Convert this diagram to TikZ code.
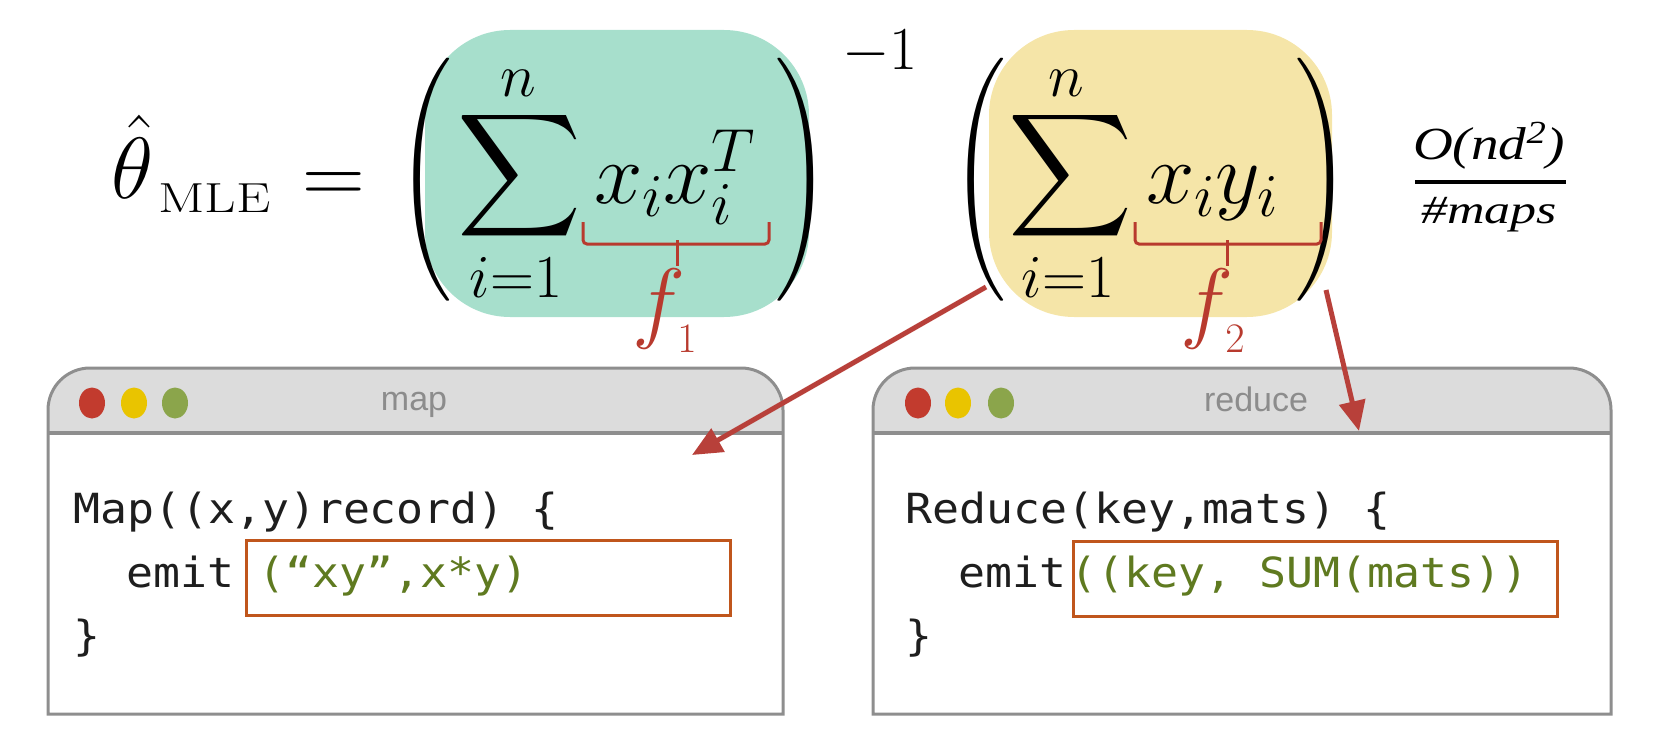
\RequirePackage{fix-cm}
\documentclass[tikz,border=0pt]{standalone}
\usepackage{amsmath}
\usepackage{fontspec}
\newfontfamily\codefont[FakeStretch=1.08]{DejaVu Sans Mono}
\newfontfamily\uifont{Liberation Sans}
\newfontfamily\costserif{Liberation Serif}
\font\bigsumfont=cmex10 at 86pt
\font\bigparenfont=cmex10 at 81pt
\usetikzlibrary{arrows.meta}
\definecolor{tealblob}{HTML}{A7DFCC}
\definecolor{yellowblob}{HTML}{F5E5A8}
\definecolor{bracered}{HTML}{B83A2E}
\definecolor{arrowred}{HTML}{B8403A}
\definecolor{titlegray}{HTML}{DCDCDC}
\definecolor{bordergray}{HTML}{8E8E8E}
\definecolor{titletextgray}{HTML}{8C8C8C}
\definecolor{dotred}{HTML}{C23B2E}
\definecolor{dotyellow}{HTML}{E9C400}
\definecolor{dotgreen}{HTML}{8BA54B}
\definecolor{boxorange}{HTML}{C0561C}
\definecolor{codegreen}{HTML}{5F7A20}
\definecolor{codeblack}{HTML}{1E1E1E}
\begin{document}
\begin{tikzpicture}[x=1pt,y=1pt,
  mathbig/.style={inner sep=0pt, anchor=base west, font=\fontsize{87}{100}\selectfont},
  glyph/.style={inner sep=0pt, anchor=center},
  limit/.style={inner sep=0pt, anchor=base, font=\fontsize{61}{70}\selectfont},
  fnlabel/.style={inner sep=0pt, anchor=base west, text=bracered, font=\fontsize{90}{100}\selectfont},
  bracestyle/.style={draw=bracered, line width=3pt, rounded corners=4pt},
  costfont/.style={inner sep=0pt, anchor=base, font=\costserif\itshape\fontsize{40}{44}\selectfont},
  codeline/.style={inner sep=0pt, anchor=base west, text=codeblack, font=\codefont\fontsize{41.5}{50}\selectfont},
  codegreentext/.style={codeline, text=codegreen},
  codebox/.style={draw=boxorange, line width=3pt, inner sep=0pt, anchor=north west, minimum width=484pt, minimum height=75pt},
  titletext/.style={inner sep=0pt, anchor=base, text=titletextgray, font=\uifont\fontsize{34}{40}\selectfont},
  winborder/.style={draw=bordergray, line width=3pt},
  redarrow/.style={draw=arrowred, line width=5pt, -{Triangle[length=30pt,width=26pt]}}
]
\useasboundingbox (0,0) rectangle (1671,-741);

% blobs
\fill[tealblob, rounded corners=85pt] (425,-30) rectangle (809,-317);
\fill[yellowblob, rounded corners=85pt] (989,-30) rectangle (1332,-317);

% left side
\node[mathbig] (theta) at (111,-198) {$\hat\theta$};
\node[inner sep=0pt, anchor=base west, font=\fontsize{42}{44}\selectfont] (mle) at (158,-212) {\scalebox{1.3}[1]{MLE}};
\node[mathbig] (eq) at (302,-203) {$=$};

% first group
\node[glyph] (lp1) at (425,-179.5) {\scalebox{0.85}[1]{\bigparenfont\char"20}};
\node[glyph] (sum1) at (519.5,-176) {\bigsumfont\char"58};
\node[limit] (n1) at (518,-97) {$n$};
\node[limit] (lo1) at (516,-297) {$i{=}1$};
\node[mathbig] (xx1) at (594,-203) {$x_i x_i^T$};
\node[glyph] (rp1) at (803,-179.5) {\scalebox{0.85}[1]{\bigparenfont\char"21}};
\node[inner sep=0pt, anchor=base west, font=\fontsize{61}{70}\selectfont] (inv1) at (842,-70) {$-1$};
\draw[bracestyle] (583,-222) |- (769,-244) -- (769,-222);
\draw[draw=bracered, line width=3pt] (677,-240) -- (677,-266);
\node[fnlabel] (f1) at (632,-331) {$f$\kern-8pt\raisebox{-21pt}{\fontsize{42}{44}\selectfont$1$}};

% second group
\node[glyph] (lp2) at (979,-179.5) {\scalebox{0.85}[1]{\bigparenfont\char"20}};
\node[glyph] (sum2) at (1071,-176) {\bigsumfont\char"58};
\node[limit] (n2) at (1066,-97) {$n$};
\node[limit] (lo2) at (1068,-297) {$i{=}1$};
\node[mathbig] (xy2) at (1146,-203) {$x_i y_i$};
\node[glyph] (rp2) at (1323,-179.5) {\scalebox{0.85}[1]{\bigparenfont\char"21}};
\draw[bracestyle] (1135,-222) |- (1321,-244) -- (1321,-222);
\draw[draw=bracered, line width=3pt] (1227,-240) -- (1227,-266);
\node[fnlabel] (f2) at (1180,-331) {$f$\kern-8pt\raisebox{-21pt}{\fontsize{42}{44}\selectfont$2$}};

% cost fraction
\node[costfont, font=\costserif\itshape\fontsize{46}{50}\selectfont] (num) at (1489,-160) {\scalebox{1.2}[1]{O(nd\textsuperscript{2})}};
\node[costfont] (den) at (1489,-223) {\scalebox{1.3}[1]{\#maps}};
\draw[line width=4pt] (1415,-182) -- (1566,-182);

% map window
\fill[white] (48,-433) rectangle (783,-714);
\fill[titlegray] (48,-433) -- (48,-410) arc[start angle=180, end angle=90, radius=42] -- (741,-368) arc[start angle=90, end angle=0, radius=42] -- (783,-433) -- cycle;
\draw[winborder] (48,-714) -- (48,-410) arc[start angle=180, end angle=90, radius=42] -- (741,-368) arc[start angle=90, end angle=0, radius=42] -- (783,-714) -- cycle;
\draw[draw=bordergray, line width=4pt] (48,-433) -- (783,-433);
\fill[dotred] (92,-403) ellipse[x radius=13, y radius=15.5];
\fill[dotyellow] (134,-403) ellipse[x radius=13, y radius=15.5];
\fill[dotgreen] (175,-403) ellipse[x radius=13, y radius=15.5];
\node[titletext] (maptitle) at (414,-410) {map};
\node[codeline] (mapl1) at (73,-523) {Map((x,y)record) \{};
\node[codeline] (mapemit) at (126,-587) {emit};
\node[codebox] (mapbox) at (245,-539) {};
\node[codegreentext] (mapout) at (258,-587) {(“xy”,x*y)};
\node[codeline] (mapl3) at (73,-650) {\}};

% reduce window
\fill[white] (873,-433) rectangle (1611,-714);
\fill[titlegray] (873,-433) -- (873,-410) arc[start angle=180, end angle=90, radius=42] -- (1569,-368) arc[start angle=90, end angle=0, radius=42] -- (1611,-433) -- cycle;
\draw[winborder] (873,-714) -- (873,-410) arc[start angle=180, end angle=90, radius=42] -- (1569,-368) arc[start angle=90, end angle=0, radius=42] -- (1611,-714) -- cycle;
\draw[draw=bordergray, line width=4pt] (873,-433) -- (1611,-433);
\fill[dotred] (918,-403) ellipse[x radius=13, y radius=15.5];
\fill[dotyellow] (958,-403) ellipse[x radius=13, y radius=15.5];
\fill[dotgreen] (1001,-403) ellipse[x radius=13, y radius=15.5];
\node[titletext] (redtitle) at (1256,-411) {reduce};
\node[codeline] (redl1) at (905,-523) {Reduce(key,mats) \{};
\node[codeline] (redemit) at (958,-587) {emit};
\node[codebox] (redbox) at (1072,-540) {};
\node[codegreentext] (redout) at (1070,-587) {((key, SUM(mats))};
\node[codeline] (redl3) at (905,-650) {\}};

% arrows
\coordinate (a1s) at (986,-287);
\coordinate (a1e) at (692,-455);
\coordinate (a2s) at (1326,-290);
\coordinate (a2e) at (1359,-431);
\draw[redarrow] (a1s) -- (a1e);
\draw[redarrow] (a2s) -- (a2e);
\end{tikzpicture}
\end{document}
